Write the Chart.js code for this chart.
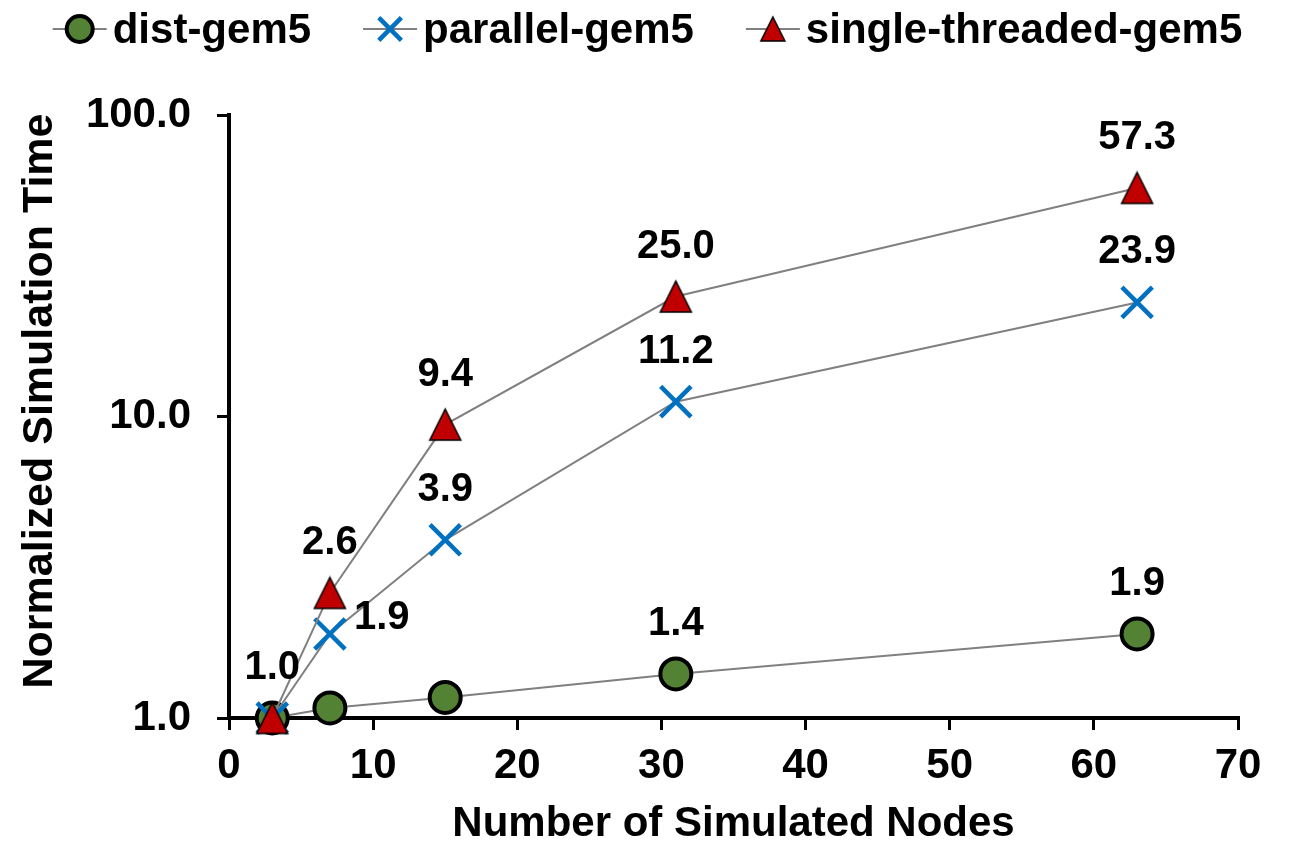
<!DOCTYPE html>
<html>
<head>
<meta charset="utf-8">
<script src="https://cdn.jsdelivr.net/npm/chart.js@4.4.1/dist/chart.umd.min.js"></script>
<style>
  html, body { margin: 0; padding: 0; background: #fff; }
</style>
</head>
<body>
<canvas id="simChart" width="1289" height="845"></canvas>
<script>
// number of simulated nodes on the x axis
const nodes = [3, 7, 15, 31, 63]
// normalized simulation time, one array per simulator
const distGem5 = [1.0, 1.08, 1.17, 1.4, 1.9]
const parallelGem5 = [1.0, 1.9, 3.9, 11.2, 23.9]
const singleGem5 = [1.0, 2.6, 9.4, 25.0, 57.3]
const seriesNames = ['dist-gem5', 'parallel-gem5', 'single-threaded-gem5']
const yTicks = [1, 10, 100]
// which points carry a value label
const distLabelled = [0, 3, 4]
const parallelLabelled = [1, 2, 3, 4]
const singleLabelled = [1, 2, 3, 4]

const FONT = "'Liberation Sans', Arial, Helvetica, sans-serif"
Chart.defaults.font.family = FONT
Chart.defaults.font.weight = 'bold'
Chart.defaults.font.size = 42
Chart.defaults.color = '#000'

const toXY = vals => vals.map((v, i) => ({x: nodes[i], y: v}))

// excel style triangle marker (as tall as it is wide)
function triangleMarker(size) {
  const c = document.createElement('canvas')
  c.width = size + 4
  c.height = size + 4
  const g = c.getContext('2d')
  g.beginPath()
  g.moveTo(c.width / 2, 2)
  g.lineTo(c.width - 2, c.height - 2)
  g.lineTo(2, c.height - 2)
  g.closePath()
  g.fillStyle = '#C00000'
  g.fill()
  g.lineWidth = 1.5
  g.strokeStyle = '#000'
  g.stroke()
  return c
}
const triBig = triangleMarker(31)
const triSmall = triangleMarker(24)

// draws the numbers next to the markers
const valueLabels = {
  id: 'valueLabels',
  afterDatasetsDraw(chart) {
    const ctx = chart.ctx
    ctx.save()
    ctx.font = 'bold 40px ' + FONT
    ctx.fillStyle = '#000'
    ctx.textBaseline = 'middle'
    chart.data.datasets.forEach((ds, di) => {
      const meta = chart.getDatasetMeta(di)
      ds.labelled.forEach(i => {
        const pt = meta.data[i]
        const txt = ds.data[i].y.toFixed(1)
        if (ds.labelRight && ds.labelRight.includes(i)) {
          ctx.textAlign = 'left'
          ctx.fillText(txt, pt.x + 24, pt.y - 16)
        } else {
          ctx.textAlign = 'center'
          ctx.fillText(txt, pt.x, pt.y - 50)
        }
      })
    })
    ctx.restore()
  }
}

// legend with a short grey line through each marker, plus the y title
const lineLegend = {
  id: 'lineLegend',
  afterDraw(chart) {
    const ctx = chart.ctx
    ctx.save()
    ctx.font = 'bold 42px ' + FONT
    const lineLen = 54, gapText = 6, gapItem = 52
    const widths = chart.data.datasets.map(ds => ctx.measureText(ds.label).width)
    let total = widths.reduce((a, b) => a + b, 0) + 3 * (lineLen + gapText) + 2 * gapItem
    let x = (chart.width - total) / 2 + 3
    const y = 29
    chart.data.datasets.forEach((ds, i) => {
      ctx.strokeStyle = '#808080'
      ctx.lineWidth = 2
      ctx.beginPath()
      ctx.moveTo(x, y)
      ctx.lineTo(x + lineLen, y)
      ctx.stroke()
      ctx.fillStyle = ds.pointBackgroundColor
      ctx.strokeStyle = ds.pointBorderColor
      ctx.lineWidth = ds.pointBorderWidth
      Chart.helpers.drawPoint(ctx, {
        pointStyle: ds.legendStyle || ds.pointStyle,
        radius: ds.legendRadius,
        rotation: 0,
        borderWidth: ds.pointBorderWidth
      }, x + lineLen / 2, y)
      x += lineLen + gapText
      ctx.fillStyle = '#000'
      ctx.textAlign = 'left'
      ctx.textBaseline = 'middle'
      ctx.fillText(ds.label, x, y + 2)
      x += widths[i] + gapItem
    })

    ctx.font = 'bold 43px ' + FONT
    ctx.translate(40, 401)
    ctx.rotate(-Math.PI / 2)
    ctx.textAlign = 'center'
    ctx.textBaseline = 'middle'
    ctx.fillText('Normalized Simulation Time', 0, 0)
    ctx.restore()
  }
}

const simChart = document.getElementById('simChart').getContext('2d')
const sim = new Chart(simChart, {
  type: 'line',
  data: {
    datasets: [{
      label: seriesNames[0],
      data: toXY(distGem5),
      labelled: distLabelled,
      borderColor: '#808080',
      borderWidth: 2,
      pointStyle: 'circle',
      pointRadius: 15.5,
      legendRadius: 13,
      pointBackgroundColor: '#548235',
      pointBorderColor: '#000',
      pointBorderWidth: 4,
      order: 2
    }, {
      label: seriesNames[1],
      data: toXY(parallelGem5),
      labelled: parallelLabelled,
      labelRight: [1],
      borderColor: '#808080',
      borderWidth: 2,
      pointStyle: 'crossRot',
      pointRadius: 21.5,
      legendRadius: 16,
      pointBackgroundColor: '#0070C0',
      pointBorderColor: '#0070C0',
      pointBorderWidth: 4.5,
      order: 1
    }, {
      label: seriesNames[2],
      data: toXY(singleGem5),
      labelled: singleLabelled,
      borderColor: '#808080',
      borderWidth: 2,
      pointStyle: triBig,
      legendStyle: triSmall,
      pointRadius: 16,
      legendRadius: 12,
      pointBackgroundColor: '#C00000',
      pointBorderColor: '#000',
      pointBorderWidth: 1.5,
      order: 0
    }]
  },
  options: {
    responsive: false,
    animation: false,
    clip: false,
    layout: {padding: {top: 115, right: 51, left: 0, bottom: 0}},
    elements: {line: {tension: 0}},
    plugins: {legend: {display: false}, tooltip: {enabled: false}},
    scales: {
      x: {
        type: 'linear',
        min: 0,
        max: 70,
        afterFit: s => { s.height = 127 },
        ticks: {stepSize: 10, padding: 11, maxRotation: 0, autoSkip: false},
        border: {color: '#000', width: 4},
        grid: {drawOnChartArea: false, color: '#000', lineWidth: 3, tickLength: 12},
        title: {display: true, text: 'Number of Simulated Nodes', font: {size: 42, weight: 'bold', lineHeight: 1}, padding: {top: 0, bottom: 0}}
      },
      y: {
        type: 'logarithmic',
        min: 1,
        max: 100,
        afterFit: s => { s.width = 229 },
        afterBuildTicks: s => { s.ticks = yTicks.map(v => ({value: v})) },
        ticks: {callback: v => Number(v).toFixed(1), padding: 26, autoSkip: false},
        border: {color: '#000', width: 4},
        grid: {drawOnChartArea: false, color: '#000', lineWidth: 3, tickLength: 12},
        title: {display: false}
      }
    }
  },
  plugins: [valueLabels, lineLegend]
})
</script>
</body>
</html>
